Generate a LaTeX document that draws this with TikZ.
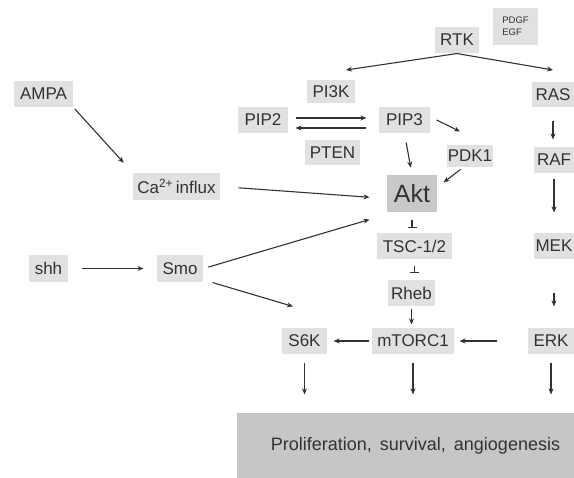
\documentclass[tikz,border=0pt]{standalone}
\usepackage{fontspec}
\setmainfont{Liberation Sans}
\usetikzlibrary{arrows.meta}
\definecolor{boxgray}{RGB}{225,225,225}
\definecolor{aktgray}{RGB}{200,200,200}
\definecolor{outgray}{RGB}{198,198,198}
\definecolor{ink}{RGB}{50,50,50}

\begin{document}
\begin{tikzpicture}
  [x=1pt,y=-1pt,line width=1.1pt,
   every node/.style={fill=boxgray,text=ink,inner sep=0pt,minimum height=26pt,
     font=\fontsize{17}{20}\selectfont},
   act/.style={draw=ink,-{Stealth[length=6pt,width=5pt]}},
   inh/.style={draw=ink,-{Bar[width=9pt]}}]

  \useasboundingbox (0,0) rectangle (574,478);

  \node[minimum width=44pt] (rtk) at (457,40) {RTK};
  \node[minimum width=45pt,minimum height=37pt,align=left,
        font=\fontsize{9.5}{12}\selectfont] (gf) at (515.5,26.5) {PDGF\\EGF};
  \node[minimum width=48pt,minimum height=23pt] (pi3k) at (331,91.5) {PI3K};
  \node[minimum width=42pt,minimum height=25pt] (ras) at (553,94.5) {RAS};
  \node[minimum width=50pt] (pip2) at (263,120) {PIP2};
  \node[minimum width=51pt] (pip3) at (404.5,120) {PIP3};
  \node[minimum width=55pt,minimum height=25pt] (pten) at (332.5,152.5) {PTEN};
  \node[minimum width=46pt,minimum height=22pt] (pdk1) at (470,156) {PDK1};
  \node[minimum width=40pt] (raf) at (554,160) {RAF};
  \node[minimum width=50pt,minimum height=37pt,fill=aktgray,
        font=\fontsize{25}{28}\selectfont] (akt) at (412,193.5) {Akt};
  \node[minimum width=59pt] (ampa) at (43.5,94) {AMPA};
  \node[minimum width=87pt,minimum height=27pt] (ca) at (176.5,186.5) {Ca\textsuperscript{2+}\,influx};
  \node[minimum width=39pt,minimum height=27pt] (shh) at (48.5,268.5) {shh};
  \node[minimum width=46pt,minimum height=27pt] (smo) at (180,268.5) {Smo};
  \node[minimum width=75pt] (tsc) at (414.5,246) {TSC-1/2};
  \node[minimum width=40pt] (mek) at (554,246) {MEK};
  \node[minimum width=47pt] (rheb) at (411.5,293) {Rheb};
  \node[minimum width=45pt] (s6k) at (304.5,341) {S6K};
  \node[minimum width=82pt] (mtorc) at (413,341) {mTORC1};
  \node[minimum width=46pt] (erk) at (551,341) {ERK};
  \node[minimum width=337pt,minimum height=65pt,fill=outgray,
        font=\fontsize{18}{22}\selectfont] (out) at (405.5,445.5)
        {\hspace*{20pt}Proliferation,\, survival,\, angiogenesis};

  % RTK splits to both branches
  \coordinate (left) at (346,70);
  \coordinate (right) at (553,70);
  \draw[act] (rtk.south) -- (left);
  \draw[act] (rtk.south) -- (right);

  % PI3K / PTEN cycle
  \draw[act,shorten <=7pt,shorten >=12pt] ([yshift=2pt]pip2.east) -- ([yshift=2pt]pip3.west);
  \draw[act,shorten <=12pt,shorten >=7pt] ([yshift=-8pt]pip3.west) -- ([yshift=-8pt]pip2.east);
  \draw[act] ([xshift=6pt]pip3.east) -- ([xshift=-10pt,yshift=13pt]pdk1.north);
  \draw[act,shorten <=9pt,shorten >=7pt] (pip3.south) -- (akt.north);
  \draw[act,shorten <=3pt] ([xshift=-7pt]pdk1.south) -- ([xshift=6pt,yshift=-8pt]akt.north east);

  % inputs from the left
  \draw[act,shorten <=2pt,shorten >=13pt] (ampa.south east) -- (ca.north west);
  \draw[act,shorten <=18pt,shorten >=17pt] (ca.east) -- ([yshift=-5pt]akt.west);
  \draw[act,shorten <=13pt,shorten >=13pt] (shh.east) -- (smo.west);
  \draw[act,shorten <=5pt] (smo.east) -- ([xshift=-17pt,yshift=-7pt]akt.south west);
  \draw[act] ([xshift=9pt]smo.south east) -- ([xshift=-11.5pt,yshift=21pt]s6k.north);

  % vertical chains
  \draw[inh,shorten <=7pt,shorten >=4pt] (akt.south) -- (akt.south |- tsc.north);
  \draw[inh,shorten <=6pt,shorten >=6pt] (tsc.south) -- (tsc.south |- rheb.north);
  \foreach \from/\to/\s/\e in {ras/raf/13/7,raf/mek/5/20,mek/erk/33/21,rheb/mtorc/2/3}
    \draw[act,shorten <=\s pt,shorten >=\e pt] (\from.south) -- (\from.south |- \to.north);

  % towards mTORC1 and S6K
  \draw[act,shorten <=2pt,shorten >=6pt] (mtorc.west) -- (s6k.east);
  \draw[act,shorten <=30pt,shorten >=5pt] (erk.west) -- (mtorc.east);

  % outputs
  \foreach \n in {s6k,mtorc,erk}
    \draw[act,shorten <=8pt,shorten >=18pt] (\n.south) -- (\n.south |- out.north);
\end{tikzpicture}
\end{document}
